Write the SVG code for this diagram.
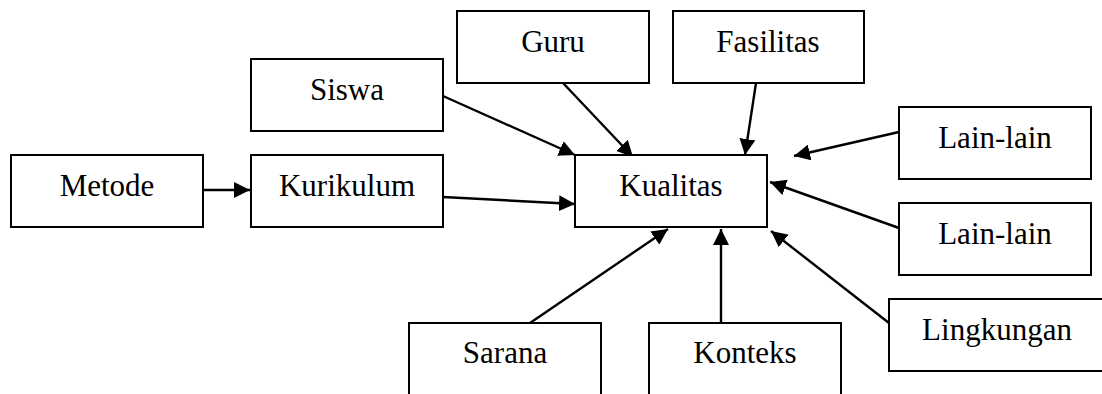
<svg xmlns="http://www.w3.org/2000/svg" width="1102" height="394" viewBox="0 0 1102 394">
  <style>
    .box { fill: #ffffff; stroke: #000000; stroke-width: 2; }
    .lbl { font-family: "Liberation Serif", "Times New Roman", serif; font-size: 31px; fill: #000000; text-anchor: middle; }
    .edge { stroke: #000000; stroke-width: 2.4; fill: none; marker-end: url(#arrow); }
  </style>
  <defs>
    <marker id="arrow" markerUnits="userSpaceOnUse" markerWidth="17" markerHeight="16" refX="16" refY="8" orient="auto">
      <path d="M0,0 L16,8 L0,16 z" fill="#000000"/>
    </marker>
  </defs>
  <rect width="1102" height="394" fill="#ffffff"/>

  <g id="connectors">
    <line class="edge" x1="203" y1="190" x2="250" y2="190"/>
    <line class="edge" x1="443" y1="96" x2="575" y2="155"/>
    <line class="edge" x1="443" y1="197" x2="575" y2="204"/>
    <line class="edge" x1="563" y1="83" x2="633" y2="157"/>
    <line class="edge" x1="756" y1="83" x2="745" y2="155"/>
    <line class="edge" x1="899" y1="132" x2="794" y2="156"/>
    <line class="edge" x1="899" y1="228" x2="770" y2="182"/>
    <line class="edge" x1="530" y1="323" x2="668" y2="229"/>
    <line class="edge" x1="721" y1="323" x2="721" y2="229"/>
    <line class="edge" x1="889" y1="323" x2="771" y2="231"/>
  </g>

  <g id="metode">
    <rect class="box" x="11" y="155" width="192" height="72"/>
    <text class="lbl" x="107" y="196">Metode</text>
  </g>
  <g id="kurikulum">
    <rect class="box" x="251" y="155" width="192" height="72"/>
    <text class="lbl" x="347" y="196">Kurikulum</text>
  </g>
  <g id="siswa">
    <rect class="box" x="251" y="59" width="192" height="72"/>
    <text class="lbl" x="347" y="100">Siswa</text>
  </g>
  <g id="guru">
    <rect class="box" x="457" y="11" width="192" height="72"/>
    <text class="lbl" x="553" y="52">Guru</text>
  </g>
  <g id="fasilitas">
    <rect class="box" x="673" y="11" width="191" height="72"/>
    <text class="lbl" x="768" y="52">Fasilitas</text>
  </g>
  <g id="kualitas">
    <rect class="box" x="575" y="155" width="192" height="72"/>
    <text class="lbl" x="671" y="196">Kualitas</text>
  </g>
  <g id="lain-lain-1">
    <rect class="box" x="899" y="107" width="192" height="72"/>
    <text class="lbl" x="995" y="148">Lain-lain</text>
  </g>
  <g id="lain-lain-2">
    <rect class="box" x="899" y="203" width="192" height="72"/>
    <text class="lbl" x="995" y="244">Lain-lain</text>
  </g>
  <g id="lingkungan">
    <rect class="box" x="889" y="299" width="216" height="72"/>
    <text class="lbl" x="997" y="340">Lingkungan</text>
  </g>
  <g id="sarana">
    <rect class="box" x="409" y="323" width="192" height="80"/>
    <text class="lbl" x="505" y="363">Sarana</text>
  </g>
  <g id="konteks">
    <rect class="box" x="649" y="323" width="192" height="80"/>
    <text class="lbl" x="745" y="363">Konteks</text>
  </g>
</svg>
